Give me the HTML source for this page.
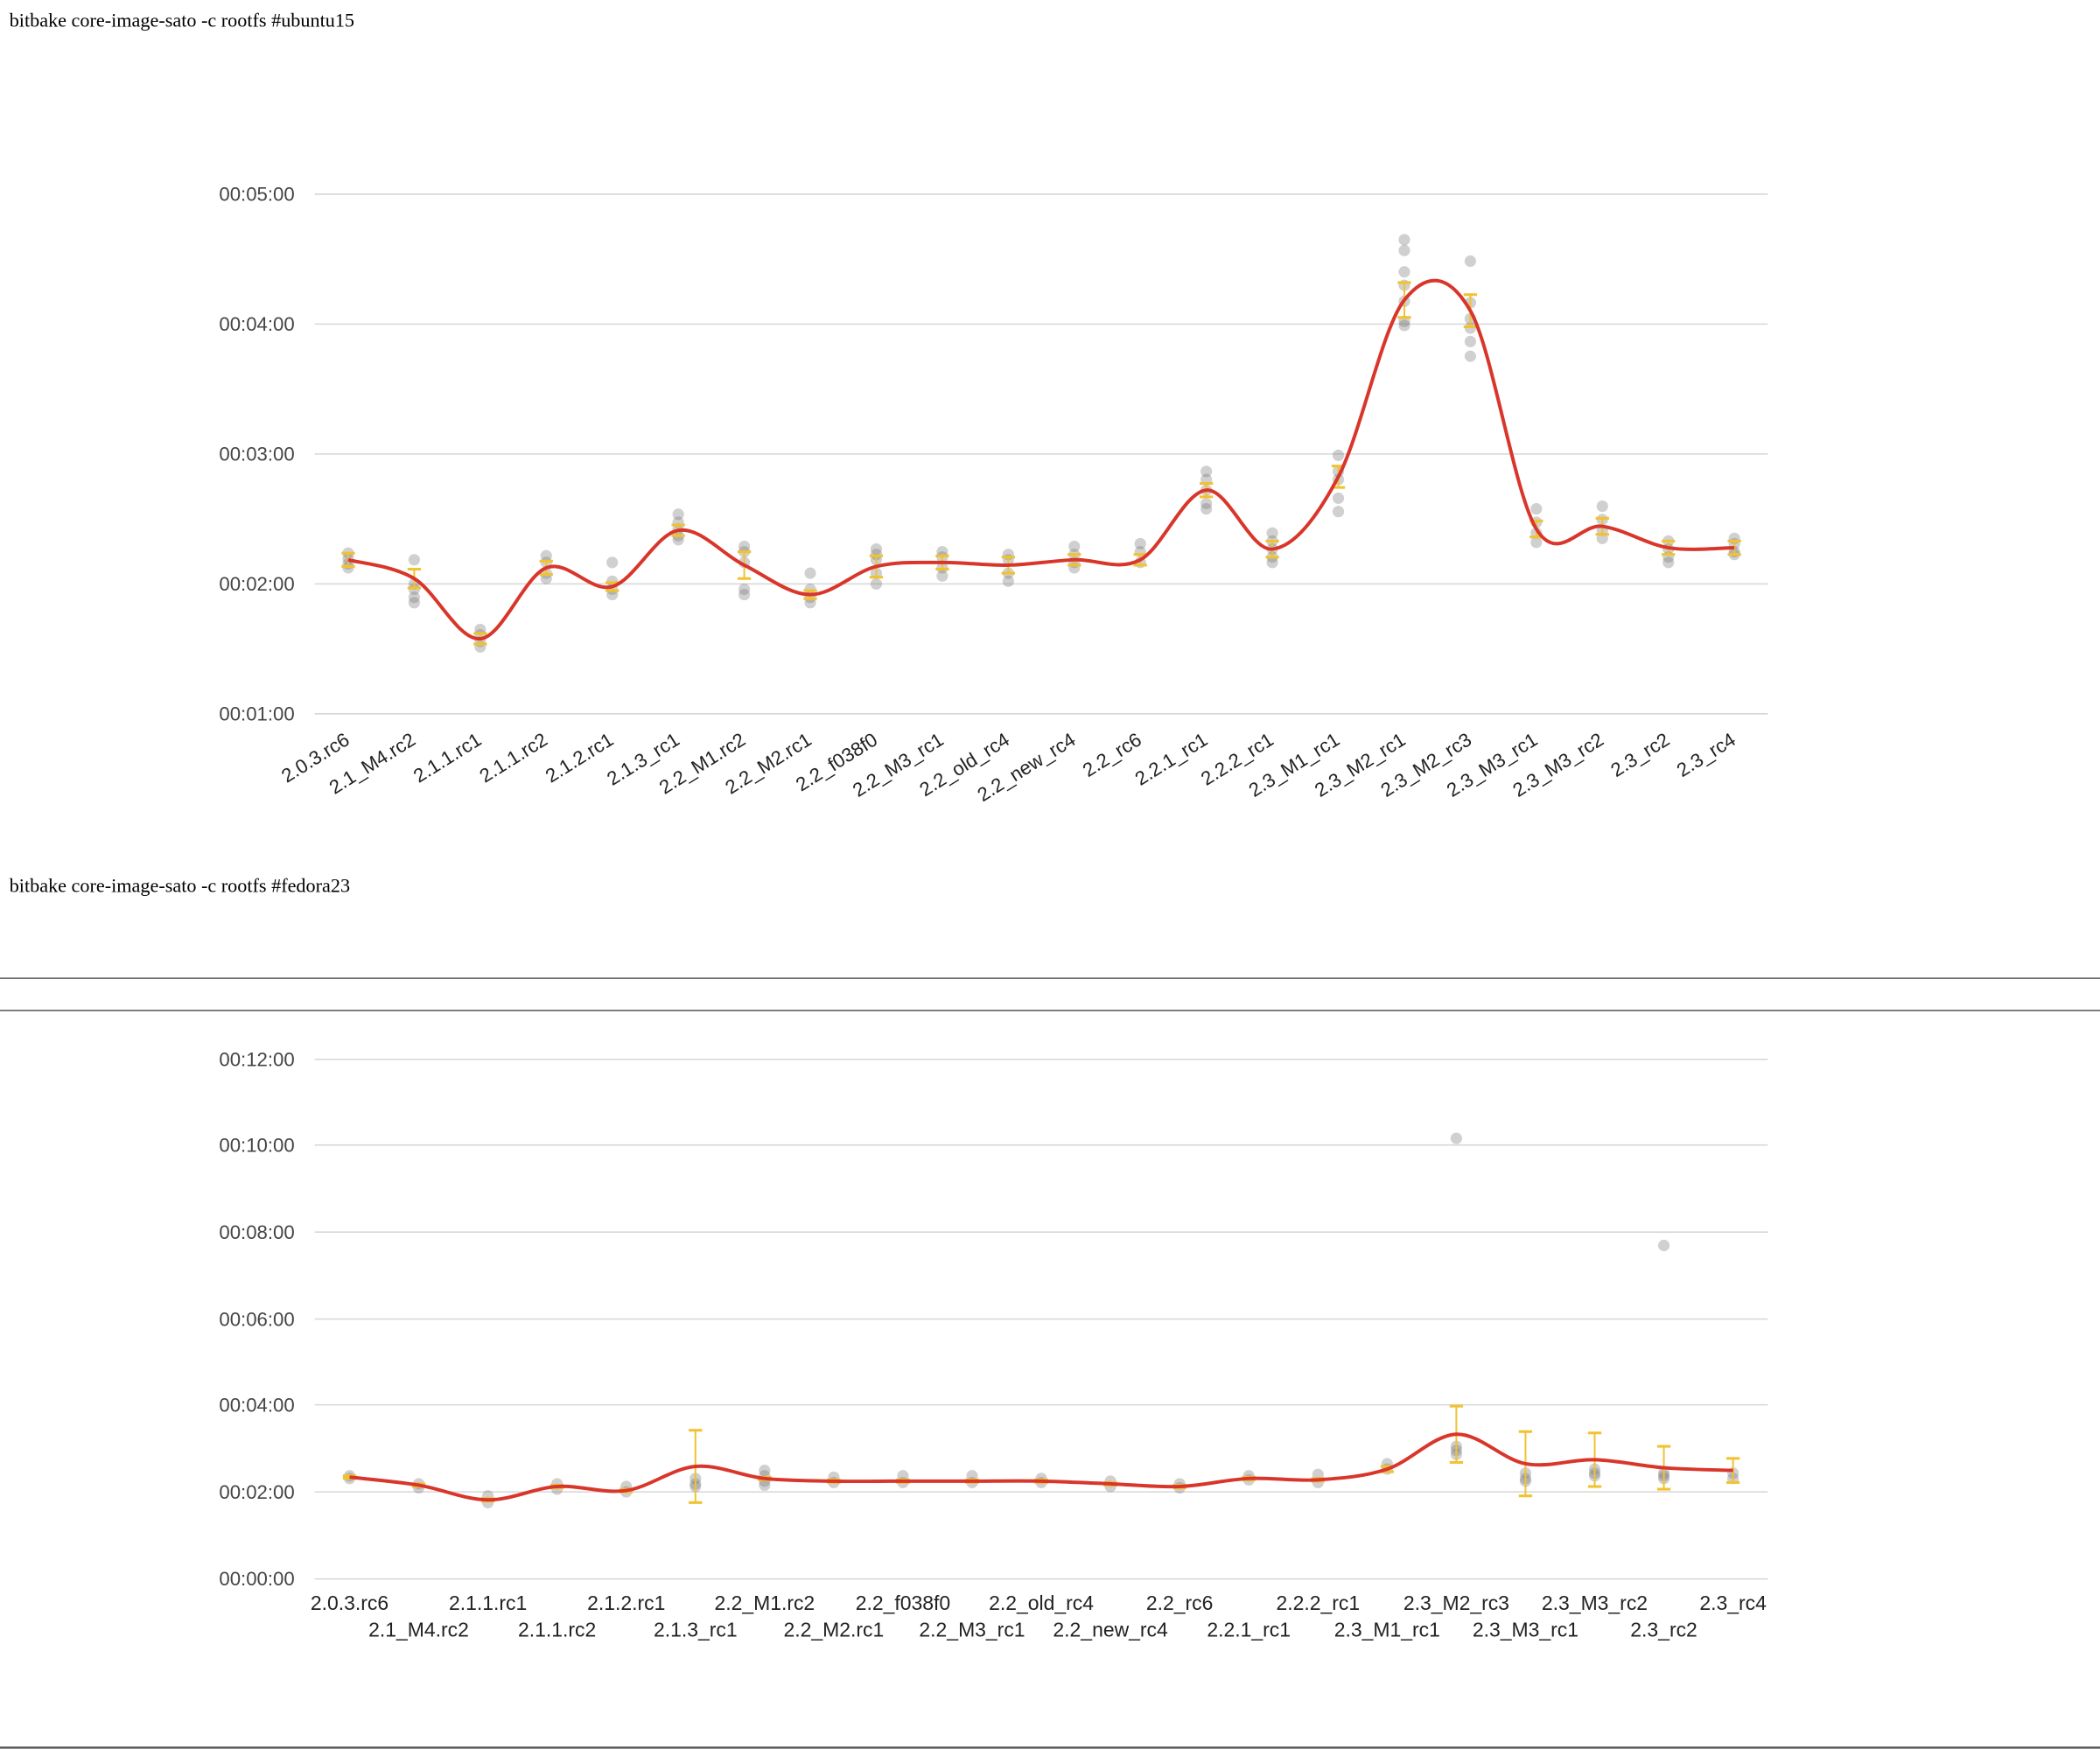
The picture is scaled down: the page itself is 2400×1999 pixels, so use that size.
<!DOCTYPE html>
<html><head><meta charset="utf-8"><style>
html,body{margin:0;padding:0;background:#fff;}
svg{display:block;}
</style></head><body>
<svg id="s" xmlns="http://www.w3.org/2000/svg" width="2400" height="1999" viewBox="0 0 1568 1306">
<rect width="1568" height="1306" fill="#fff"/>
<text x="7" y="20" font-family="Liberation Serif, serif" font-size="14.5" fill="#000">bitbake core-image-sato -c rootfs #ubuntu15</text>
<text x="7" y="666" font-family="Liberation Serif, serif" font-size="14.5" fill="#000">bitbake core-image-sato -c rootfs #fedora23</text>
<line x1="0" y1="730.5" x2="1568" y2="730.5" stroke="#555" stroke-width="1"/>
<line x1="0" y1="754.5" x2="1568" y2="754.5" stroke="#555" stroke-width="1"/>
<line x1="0" y1="1305" x2="1568" y2="1305" stroke="#555" stroke-width="1.5"/>
<g id="c1"></g><g id="c2"></g>
</svg>
<script>
var NS="http://www.w3.org/2000/svg";
function el(p,t,a,txt){var e=document.createElementNS(NS,t);for(var k in a)e.setAttribute(k,a[k]);if(txt)e.textContent=txt;p.appendChild(e);return e;}
function cr(pts){var d="M"+pts[0][0]+","+pts[0][1];for(var i=0;i<pts.length-1;i++){var p0=pts[i-1]||pts[i],p1=pts[i],p2=pts[i+1],p3=pts[i+2]||p2;var t=6;d+=" C"+(p1[0]+(p2[0]-p0[0])/t)+","+(p1[1]+(p2[1]-p0[1])/t)+" "+(p2[0]-(p3[0]-p1[0])/t)+","+(p2[1]-(p3[1]-p1[1])/t)+" "+p2[0]+","+p2[1];}return d;}
function chart(g,grid,cats,data,xs,dx,rot){
 grid.forEach(function(r){el(g,"line",{x1:235,x2:1320,y1:r[0],y2:r[0],stroke:"#d6d6d6","stroke-width":1});
  el(g,"text",{x:220,y:r[0]+5,"text-anchor":"end","font-family":"Liberation Sans, sans-serif","font-size":14.5,fill:"#444"},r[1]);});
 var pts=[];
 data.forEach(function(d,i){var x=xs+i*dx;pts.push([x,d[0]]);
  d[2].forEach(function(y){el(g,"circle",{cx:x,cy:y,r:4.3,fill:"rgba(120,120,120,0.35)"});});
 });
 data.forEach(function(d,i){var x=xs+i*dx;var a=d[0]-d[1],b=d[0]+d[1];
  el(g,"line",{x1:x,x2:x,y1:a,y2:b,stroke:"#f1c232","stroke-width":1.3});
  el(g,"line",{x1:x-5,x2:x+5,y1:a,y2:a,stroke:"#f1c232","stroke-width":2});
  el(g,"line",{x1:x-5,x2:x+5,y1:b,y2:b,stroke:"#f1c232","stroke-width":2});});
 el(g,"path",{d:cr(pts),fill:"none",stroke:"#d9362b","stroke-width":2.6});
 cats.forEach(function(c,i){var x=xs+i*dx;
  if(rot){el(g,"text",{x:x+2,y:555,"text-anchor":"end",transform:"rotate(-32 "+(x+2)+" 555)","font-family":"Liberation Sans, sans-serif","font-size":14.5,fill:"#222"},c);}
  else{var y=(i%2==0)?1202:1222;el(g,"text",{x:x,y:y,"text-anchor":"middle","font-family":"Liberation Sans, sans-serif","font-size":15,fill:"#222"},c);}
 });
}
var cats1=["2.0.3.rc6","2.1_M4.rc2","2.1.1.rc1","2.1.1.rc2","2.1.2.rc1","2.1.3_rc1","2.2_M1.rc2","2.2_M2.rc1","2.2_f038f0","2.2_M3_rc1","2.2_old_rc4","2.2_new_rc4","2.2_rc6","2.2.1_rc1","2.2.2_rc1","2.3_M1_rc1","2.3_M2_rc1","2.3_M2_rc3","2.3_M3_rc1","2.3_M3_rc2","2.3_rc2","2.3_rc4"];
var d1=[[418,5,[413,417,421,424]],[432,7,[418,440,446,450,436]],[477,4,[470,474,479,483]],[424,5,[415,420,428,432]],[438,3,[420,434,440,444]],[396,4,[384,390,395,400,403]],[422,10,[408,412,440,444,420]],[444,3,[428,440,446,450]],[423,8,[410,414,418,428,436]],[420,5,[412,416,424,430]],[422,6,[414,418,428,434]],[418,4,[408,414,420,424]],[418,4,[406,412,420]],[366,5,[352,358,366,376,380]],[410,6,[398,404,410,416,420]],[356,8,[340,352,358,372,382]],[224,13,[179,187,203,213,225,240,243]],[232,12,[195,226,245,255,266,238]],[395,6,[380,390,398,405]],[393,6,[378,388,396,402]],[409,5,[404,410,416,420]],[409,5,[402,406,412,414]]];
var xs1=260,dx1=(1295-260)/21;
chart(document.getElementById("c1"),[[145,"00:05:00"],[242,"00:04:00"],[339,"00:03:00"],[436,"00:02:00"],[533,"00:01:00"]],cats1,d1,xs1,dx1,true);
var cats2=["2.0.3.rc6","2.1_M4.rc2","2.1.1.rc1","2.1.1.rc2","2.1.2.rc1","2.1.3_rc1","2.2_M1.rc2","2.2_M2.rc1","2.2_f038f0","2.2_M3_rc1","2.2_old_rc4","2.2_new_rc4","2.2_rc6","2.2.1_rc1","2.2.2_rc1","2.3_M1_rc1","2.3_M2_rc3","2.3_M3_rc1","2.3_M3_rc2","2.3_rc2","2.3_rc4"];
var d2=[[1103,1,[1102,1104]],[1109,1,[1108,1111]],[1120,1,[1117,1122]],[1110,1,[1108,1112]],[1113,1,[1110,1114]],[1095,27,[1104,1108,1110]],[1104,1,[1098,1102,1106,1109]],[1106,1,[1103,1107]],[1106,1,[1102,1107]],[1106,1,[1102,1107]],[1106,1,[1104,1107]],[1108,1,[1106,1110]],[1110,1,[1108,1111]],[1104,1,[1102,1105]],[1105,1,[1101,1107]],[1097,2,[1093,1097]],[1071,21,[850,1080,1083,1086]],[1093,24,[1100,1104,1106]],[1090,20,[1097,1100,1102]],[1096,16,[930,1100,1104,1102]],[1098,9,[1100,1104]]];
chart(document.getElementById("c2"),[[791,"00:12:00"],[855,"00:10:00"],[920,"00:08:00"],[985,"00:06:00"],[1049,"00:04:00"],[1114,"00:02:00"],[1179,"00:00:00"]],cats2,d2,261,(1294-261)/20,false);
</script>
</body></html>
